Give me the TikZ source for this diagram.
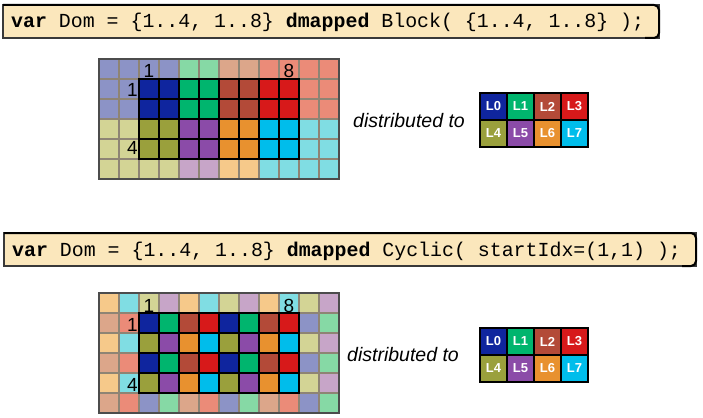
\documentclass[tikz,border=0pt]{standalone}
\usepackage{fontspec}
\setmainfont{Liberation Sans}
\newfontfamily\codefont{Liberation Mono}
\usepackage{tikz}
% locale colours and their light ghost versions
\definecolor{loc0}{HTML}{0F259E}
\definecolor{loc1}{HTML}{00B56E}
\definecolor{loc2}{HTML}{B34A38}
\definecolor{loc3}{HTML}{D7191A}
\definecolor{loc4}{HTML}{9AA03C}
\definecolor{loc5}{HTML}{8B4BA8}
\definecolor{loc6}{HTML}{E8912F}
\definecolor{loc7}{HTML}{00BDEB}
\definecolor{ghost0}{HTML}{8C93C6}
\definecolor{ghost1}{HTML}{86D9A5}
\definecolor{ghost2}{HTML}{DCA68A}
\definecolor{ghost3}{HTML}{EB8B78}
\definecolor{ghost4}{HTML}{D3D495}
\definecolor{ghost5}{HTML}{C7A5C8}
\definecolor{ghost6}{HTML}{F6C98A}
\definecolor{ghost7}{HTML}{80DDE3}
\definecolor{codebg}{HTML}{FBE7BC}
\definecolor{gridgray}{HTML}{8E8474}

\begin{document}
\begin{tikzpicture}[x=1pt,y=-1pt,
    codebox/.style={fill=codebg, draw=gray!45!black, line width=1.2pt},
    codeedge/.style={draw=black, line width=2pt, rounded corners=5pt},
    codetext/.style={anchor=base west, inner sep=0pt, font=\codefont\fontsize{19.9}{24}\selectfont},
    cellline/.style={draw=gridgray, line width=1.2pt},
    innerline/.style={draw=black, line width=1.6pt},
    innerframe/.style={draw=black, line width=2.6pt},
    outerframe/.style={draw=gray!60!black, line width=1.4pt},
    numlabel/.style={inner sep=0pt, font=\fontsize{19}{22}\selectfont},
    disttext/.style={font=\itshape\fontsize{19.5}{23}\selectfont},
    loccell/.style={draw=black, line width=2pt, minimum size=27pt, inner sep=0pt,
      text=white, font=\bfseries\fontsize{13}{15}\selectfont}]
  \useasboundingbox (0,0) rectangle (703,417);

  % Block code line
  \filldraw[codebox] (3,5) rectangle (659,38);
  \draw[codeedge] (3,5) -- (659,5) -- (659,38) -- (645,38);
  \node[codetext] (blockcode) at (11,28)
    {\textbf{var} Dom = \{1..4, 1..8\} \textbf{dmapped} Block( \{1..4, 1..8\} );};

  % Block grid
  \foreach \r in {0,...,5}{
    \foreach \c in {0,...,11}{
      \pgfmathtruncatemacro{\lid}{4*(\r>2)+min(max(floor((\c-2)/2),0),3)}
      \pgfmathtruncatemacro{\isin}{and(and(\r>0,\r<5),and(\c>1,\c<10))}
      \ifnum\isin=1 \def\cellcol{loc\lid}\else\def\cellcol{ghost\lid}\fi
      \filldraw[fill=\cellcol, cellline] (99+20*\c,59+20*\r) rectangle ++(20,20);
    }
  }
  \foreach \r in {1,...,4}
    \foreach \c in {2,...,9}
      \draw[innerline] (99+20*\c,59+20*\r) rectangle ++(20,20);
  \draw[innerframe] (139,79) rectangle (299,159);
  \draw[outerframe] (99,59) rectangle (339,179);
  \node[numlabel, anchor=base] (blkcolA) at (149,78) {1};
  \node[numlabel, anchor=base] (blkcolB) at (289,78) {8};
  \node[numlabel, anchor=base east] (blkrowA) at (138,97) {1};
  \node[numlabel, anchor=base east] (blkrowB) at (138,154) {4};

  % Block locales
  \node[disttext] (blkdist) at (409,121) {distributed to};
  \foreach \k in {0,...,7}{
    \pgfmathtruncatemacro{\lc}{mod(\k,4)}
    \pgfmathtruncatemacro{\lr}{\k/4}
    \node[loccell, fill=loc\k] (blkL\k) at (493.5+27*\lc,106.5+27*\lr) {L\k};
  }

  % Cyclic code line
  \filldraw[codebox] (4,233) rectangle (696,266);
  \draw[codeedge] (4,233) -- (696,233) -- (696,266) -- (682,266);
  \node[codetext] (cycliccode) at (12,256)
    {\textbf{var} Dom = \{1..4, 1..8\} \textbf{dmapped} Cyclic( startIdx=(1,1) );};

  % Cyclic grid
  \foreach \r in {0,...,5}{
    \foreach \c in {0,...,11}{
      \pgfmathtruncatemacro{\lid}{4*mod(\r+1,2)+mod(\c+2,4)}
      \pgfmathtruncatemacro{\isin}{and(and(\r>0,\r<5),and(\c>1,\c<10))}
      \ifnum\isin=1 \def\cellcol{loc\lid}\else\def\cellcol{ghost\lid}\fi
      \filldraw[fill=\cellcol, cellline] (99+20*\c,293+20*\r) rectangle ++(20,20);
    }
  }
  \foreach \r in {1,...,4}
    \foreach \c in {2,...,9}
      \draw[innerline] (99+20*\c,293+20*\r) rectangle ++(20,20);
  \draw[innerframe] (139,313) rectangle (299,393);
  \draw[outerframe] (99,293) rectangle (339,413);
  \node[numlabel, anchor=base] (cyccolA) at (149,312) {1};
  \node[numlabel, anchor=base] (cyccolB) at (289,312) {8};
  \node[numlabel, anchor=base east] (cycrowA) at (138,331) {1};
  \node[numlabel, anchor=base east] (cycrowB) at (138,391) {4};

  % Cyclic locales
  \node[disttext] (cycdist) at (403,355) {distributed to};
  \foreach \k in {0,...,7}{
    \pgfmathtruncatemacro{\lc}{mod(\k,4)}
    \pgfmathtruncatemacro{\lr}{\k/4}
    \node[loccell, fill=loc\k] (cycL\k) at (493.5+27*\lc,341.5+27*\lr) {L\k};
  }
\end{tikzpicture}
\end{document}
